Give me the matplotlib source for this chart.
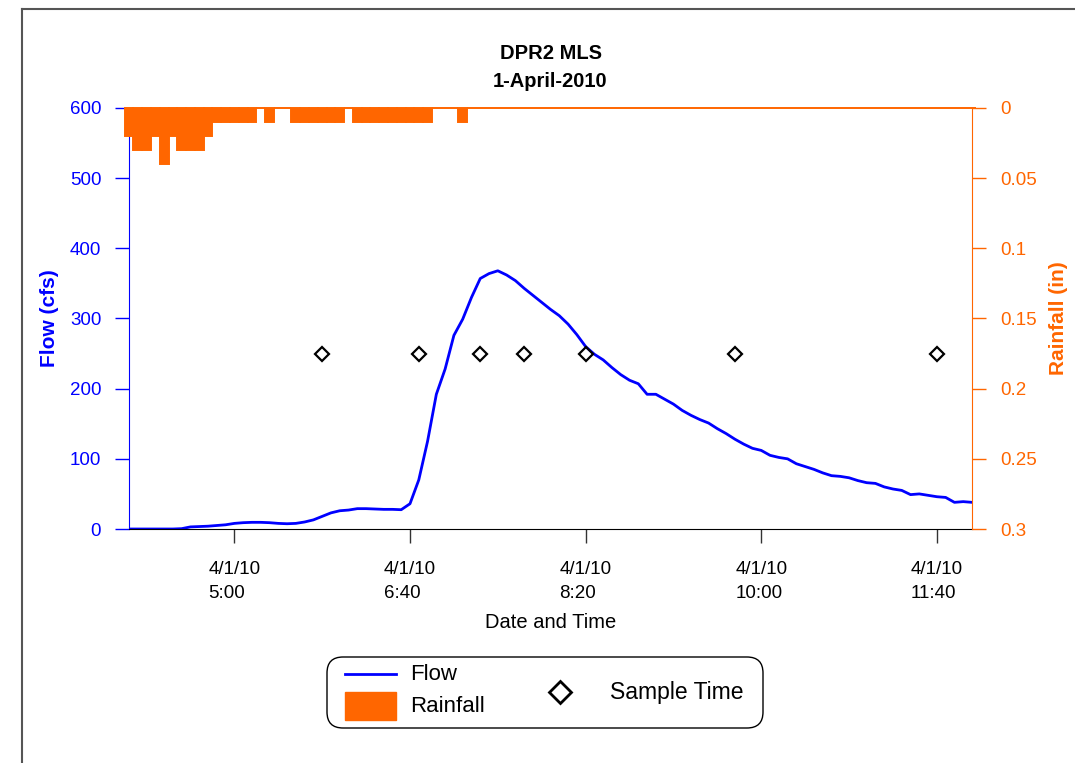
import matplotlib.pyplot as plt
import pandas as pd
from matplotlib.lines import Line2D
from matplotlib.patches import Rectangle, FancyBboxPatch

plt.rcParams['font.family'] = ['Liberation Sans', 'DejaVu Sans']

BLUE = '#0000FF'
ORANGE = '#FF6600'

# 5-minute record, 4:00 to 12:00
times = pd.date_range('2010-04-01 04:00', '2010-04-01 12:00', freq='5min')

flow = [0, 0, 0, 0, 0, 0,
        0.5, 3, 3.5, 4, 5, 6,
        8, 9, 9.5, 9.5, 9, 8,
        7.5, 8, 10, 13, 18, 23,
        26, 27, 29, 29, 28.5, 28,
        28, 27.5, 36, 70, 125, 192,
        228, 276, 299, 330, 357, 364,
        368, 362, 354, 343, 333, 323,
        313, 304, 292, 277, 260, 249,
        241, 230, 220, 212, 207, 192,
        192, 185, 178, 169, 162, 156,
        151, 143, 136, 128, 121, 115,
        112, 105, 102, 100, 93, 89,
        85, 80, 76, 75, 73, 69,
        66, 65, 60, 57, 55, 49,
        50, 48, 46, 45, 38, 39,
        38]

rain = ([0.02, 0.03, 0.03, 0.02, 0.04, 0.02, 0.03, 0.03, 0.03, 0.02]
        + [0.01] * 5 + [0] + [0.01] + [0, 0]
        + [0.01] * 6 + [0] + [0.01] * 9 + [0, 0, 0] + [0.01]
        + [0] * 58)

sample_times = pd.to_datetime(['2010-04-01 05:50', '2010-04-01 06:45',
                               '2010-04-01 07:20', '2010-04-01 07:45',
                               '2010-04-01 08:20', '2010-04-01 09:45',
                               '2010-04-01 11:40'])
sample_flow = [250] * 7

xtick_times = pd.to_datetime(['2010-04-01 05:00', '2010-04-01 06:40',
                              '2010-04-01 08:20', '2010-04-01 10:00',
                              '2010-04-01 11:40'])
xtick_labels = ['4/1/10\n5:00', '4/1/10\n6:40', '4/1/10\n8:20',
                '4/1/10\n10:00', '4/1/10\n11:40']
flow_ticks = [0, 100, 200, 300, 400, 500, 600]
rain_ticks = [0, 0.05, 0.1, 0.15, 0.2, 0.25, 0.3]
rain_labels = ['0', '0.05', '0.1', '0.15', '0.2', '0.25', '0.3']

W, H = 1075, 763
fig = plt.figure(figsize=(W / 100, H / 100), dpi=100)
ax = fig.add_axes([129 / W, 1 - 529 / H, (972 - 129) / W, (529 - 108) / H])
ax2 = ax.twinx()

# rainfall bars, hanging from the top
ax2.bar(times, rain, width=5 / 1440, color=ORANGE, edgecolor=ORANGE,
        lw=1.4, clip_on=False)
ax2.set_ylim(0.3, 0)
ax2.set_yticks(rain_ticks)
ax2.set_yticklabels(rain_labels)

# flow and sample times
ax.plot(times, flow, color=BLUE, lw=2)
ax.plot(sample_times, sample_flow, ls='none', marker='D', ms=7.5,
        mfc='none', mec='black', mew=1.6)

ax.set_xlim(times[0], times[-1])
ax.set_ylim(0, 600)
ax.set_yticks(flow_ticks)
ax.set_xticks(xtick_times)
ax.set_xticklabels(xtick_labels)
for lbl in ax.get_xticklabels():
    lbl.set_multialignment('left')
    lbl.set_linespacing(1.55)

# spines
ax.spines['top'].set_visible(False)
ax.spines['right'].set_visible(False)
ax.spines['left'].set_color(BLUE)
ax.spines['bottom'].set_color('black')
ax2.spines['top'].set_visible(False)
ax2.spines['left'].set_visible(False)
ax2.spines['bottom'].set_visible(False)
ax2.spines['right'].set_color(ORANGE)

ax.tick_params(axis='x', length=10, width=1, color='#333333',
               labelsize=13.5, pad=13)
ax.tick_params(axis='y', length=10, width=1, colors=BLUE,
               labelsize=13.5, pad=10)
ax2.tick_params(axis='y', length=10, width=1, colors=ORANGE,
                labelsize=13.5, pad=10)

ax.set_title('DPR2 MLS\n1-April-2010', fontweight='bold', fontsize=14.5,
             pad=15, linespacing=1.6)
ax.set_ylabel('Flow (cfs)', color=BLUE, fontweight='bold', fontsize=15,
              labelpad=8)
ax2.set_ylabel('Rainfall (in)', color=ORANGE, fontweight='bold',
               fontsize=15, labelpad=9)
ax.set_xlabel('Date and Time', fontsize=14.5, labelpad=8)

# page frame
fig.add_artist(Line2D([22 / W, 1], [1 - 8.5 / H] * 2,
                      transform=fig.transFigure, color='#555555', lw=1.5))
fig.add_artist(Line2D([22 / W] * 2, [0, 1 - 8.5 / H],
                      transform=fig.transFigure, color='#555555', lw=1.5))

# legend box, laid out by hand
tr = fig.dpi_scale_trans
def inch(x, y):
    return x / 100, (H - y) / 100

bx, by = inch(327, 728)
fig.add_artist(FancyBboxPatch((bx, by), 4.36, 0.71,
                              boxstyle='round,pad=0,rounding_size=0.16',
                              transform=tr, fc='white', ec='black', lw=1))
x0, yf = inch(345, 674)
fig.add_artist(Line2D([x0, x0 + 0.51], [yf, yf], transform=tr,
                      color=BLUE, lw=2))
rx, ry = inch(345, 720)
fig.add_artist(Rectangle((rx, ry), 0.51, 0.28, transform=tr,
                         fc=ORANGE, ec=ORANGE))
dx, dy = inch(560, 692)
fig.add_artist(Line2D([dx], [dy], transform=tr, ls='none', marker='D',
                      ms=11.5, mfc='none', mec='black', mew=2))
fig.text(*inch(410, 675), 'Flow', transform=tr, fontsize=16, va='center')
fig.text(*inch(410, 707), 'Rainfall', transform=tr, fontsize=16,
         va='center')
fig.text(*inch(610, 692), 'Sample Time', transform=tr, fontsize=16.5,
         va='center')

fig.savefig('out.png', dpi=100)
